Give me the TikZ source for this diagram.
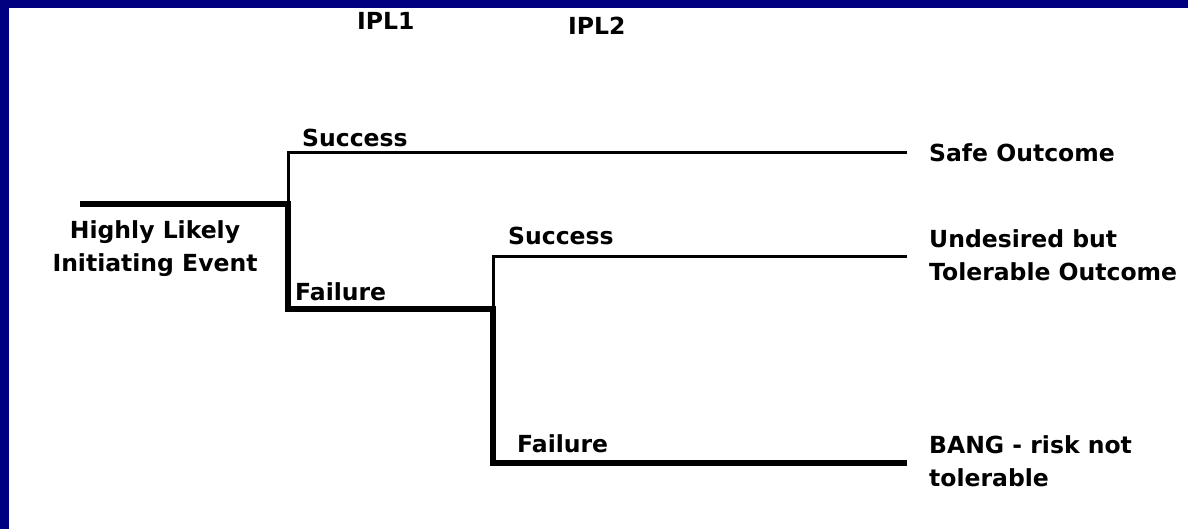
\documentclass[tikz,border=0pt]{standalone}
\usepackage{fontspec}
\setmainfont{DejaVu Sans}
\definecolor{slidenavy}{RGB}{0,0,128}
\tikzset{ok/.style={line width=3pt},
  bad/.style={line width=5.5pt, line join=miter},
  lbl/.style={font=\fontsize{23.5}{33}\selectfont\bfseries, inner sep=0pt, align=left}}

\begin{document}
\begin{tikzpicture}[x=1pt, y=-1pt]
  % slide frame
  \fill[slidenavy] (0,0) rectangle (1188,529);
  \fill[white] (9,8) rectangle (1188,529);
  \useasboundingbox (0,0) rectangle (1188,529);
  % branch points
  \coordinate (ie) at (80,204);
  \coordinate (j1) at (288,204);
  \coordinate (j1s) at (288,153);
  \coordinate (j1f) at (288,309);
  \coordinate (j2) at (493,309);
  \coordinate (j2s) at (493,257);
  \coordinate (j2f) at (493,463);
  \coordinate (safe) at (907,153);
  \coordinate (undes) at (907,257);
  \coordinate (bang) at (907,463);
  % success paths
  \draw[ok] (j1) -- (j1s) -- (safe);
  \draw[ok] (j2) -- (j2s) -- (undes);
  % failure path
  \draw[bad] (ie) -- (j1) -- (j1f) -- (j2) -- (j2f) -- (bang);
  % column heads
  \node[lbl, anchor=base west] (ipl1) at (357,30) {IPL1};
  \node[lbl, anchor=base west] (ipl2) at (568,35) {IPL2};
  % branch labels
  \node[lbl, anchor=base west] (s1) at (302,147) {Success};
  \node[lbl, anchor=base west] (f1) at (295,300) {Failure};
  \node[lbl, anchor=base west] (s2) at (508,245) {Success};
  \node[lbl, anchor=base west] (f2) at (517,452) {Failure};
  \node[lbl, align=center, anchor=base] (init) at (155,272) {Highly Likely\\Initiating Event};
  % outcomes
  \node[lbl, anchor=base west] (o1) at (929,162) {Safe Outcome};
  \node[lbl, anchor=base west] (o2) at (929,280) {Undesired but\\Tolerable Outcome};
  \node[lbl, anchor=base west] (o3) at (929,486) {BANG - risk not\\tolerable};
\end{tikzpicture}
\end{document}
